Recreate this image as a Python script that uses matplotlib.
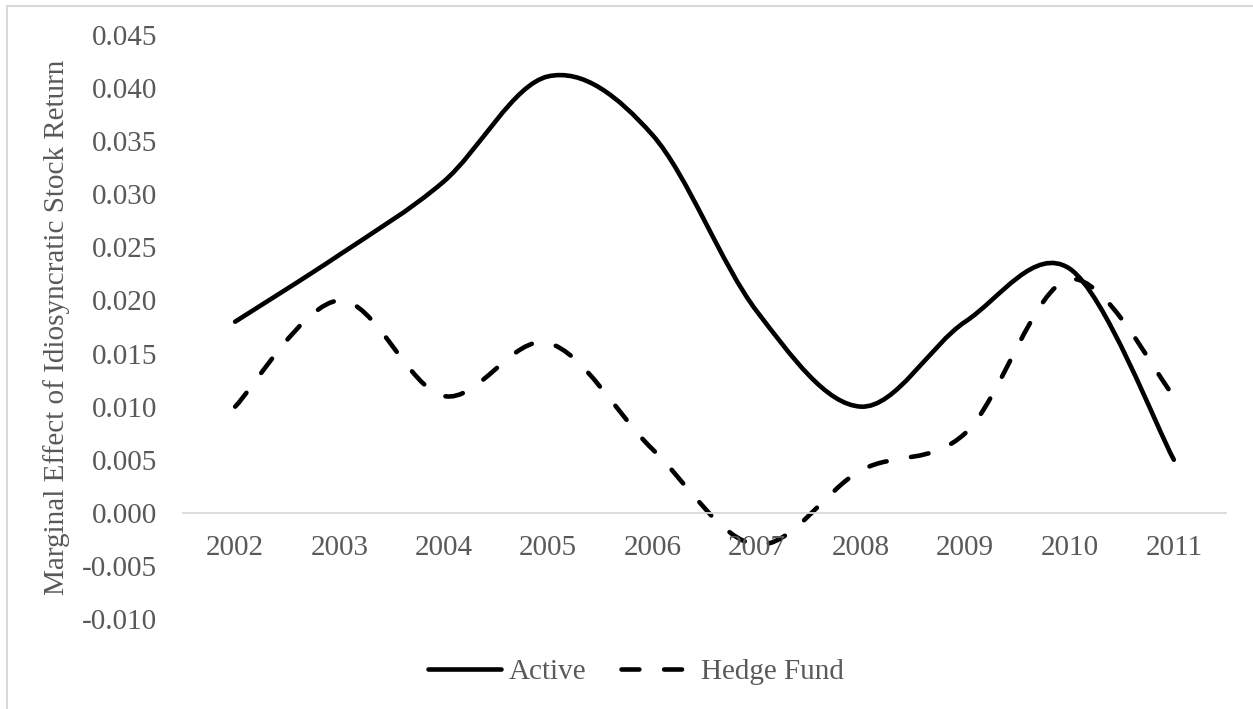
import matplotlib
matplotlib.use("Agg")
import matplotlib.pyplot as plt
from matplotlib.path import Path
from matplotlib.patches import PathPatch, Rectangle
from matplotlib.lines import Line2D
import numpy as np

years = ["2002", "2003", "2004", "2005", "2006", "2007", "2008", "2009", "2010", "2011"]
active = [0.018, 0.0243, 0.0312, 0.0411, 0.0356, 0.019, 0.010, 0.018, 0.023, 0.005]
hedge_fund = [0.010, 0.020, 0.011, 0.016, 0.006, -0.003, 0.004, 0.0075, 0.022, 0.011]
yticks = [-0.010, -0.005, 0.000, 0.005, 0.010, 0.015, 0.020, 0.025, 0.030, 0.035, 0.040, 0.045]
ylabel = "Marginal Effect of Idiosyncratic Stock Return"

FONT = ["Liberation Serif", "DejaVu Serif"]
TXT = "#595959"
GRID = "#D9D9D9"
FS = 21

plt.rcParams["font.family"] = FONT

W, H = 1253, 709
fig = plt.figure(figsize=(W / 100, H / 100), dpi=100)
ax = fig.add_axes([183 / W, 1 - 619 / H, (1226 - 183) / W, (619 - 35) / H])

# chart border
fig.patches.append(Rectangle((7 / W, -0.05), 1.2, 1 - 6 / H + 0.05, transform=fig.transFigure,
                             fill=False, ec=GRID, lw=1.5))


def smooth_path(xs, ys):
    pts = np.column_stack([xs, ys]).astype(float)
    n = len(pts)
    verts = [pts[0]]
    codes = [Path.MOVETO]
    for i in range(n - 1):
        p0 = pts[max(i - 1, 0)]
        p1 = pts[i]
        p2 = pts[i + 1]
        p3 = pts[min(i + 2, n - 1)]
        c1 = p1 + (p2 - p0) / 6.0
        c2 = p2 - (p3 - p1) / 6.0
        verts += [c1, c2, p2]
        codes += [Path.CURVE4] * 3
    return Path(verts, codes)


x = np.arange(len(years))
LW = 3.3
dash = (0, (3.9, 5.4))

p1 = PathPatch(smooth_path(x, active), fill=False, ec="black", lw=LW, capstyle="round", joinstyle="round")
ax.add_patch(p1)
p2 = PathPatch(smooth_path(x, hedge_fund), fill=False, ec="black", lw=LW, linestyle=dash,
               capstyle="round", joinstyle="round")
ax.add_patch(p2)

ax.set_xlim(-0.5, len(years) - 0.5)
ax.set_ylim(-0.010, 0.045)
ax.set_yticks(yticks)
ax.set_yticklabels([f"{v:.3f}" for v in yticks])
ax.set_xticks(x)
ax.set_xticklabels(years)

for s in ["top", "right", "left"]:
    ax.spines[s].set_visible(False)
ax.spines["bottom"].set_position(("data", 0))
ax.spines["bottom"].set_color(GRID)
ax.spines["bottom"].set_linewidth(1.3)
ax.patch.set_visible(False)

ax.tick_params(axis="y", length=0, pad=18.5, labelsize=FS, labelcolor=TXT)
ax.tick_params(axis="x", length=0, pad=16, labelsize=FS, labelcolor=TXT)

ax.set_ylabel(ylabel, fontsize=FS, color=TXT)
ax.yaxis.set_label_coords(-(183 - 70) / (1226 - 183), 0.5)

handles = [
    Line2D([], [], color="black", lw=LW, solid_capstyle="round"),
    Line2D([], [], color="black", lw=LW, linestyle=dash, dash_capstyle="round"),
]
leg = fig.legend(handles, ["Active", "Hedge Fund"], loc="center", ncol=2,
                 bbox_to_anchor=(636 / W, 1 - 672 / H), frameon=False,
                 fontsize=FS, handlelength=2.5, handletextpad=0.25, columnspacing=1.2)
for t in leg.get_texts():
    t.set_color(TXT)

fig.savefig("out.png", dpi=100)
